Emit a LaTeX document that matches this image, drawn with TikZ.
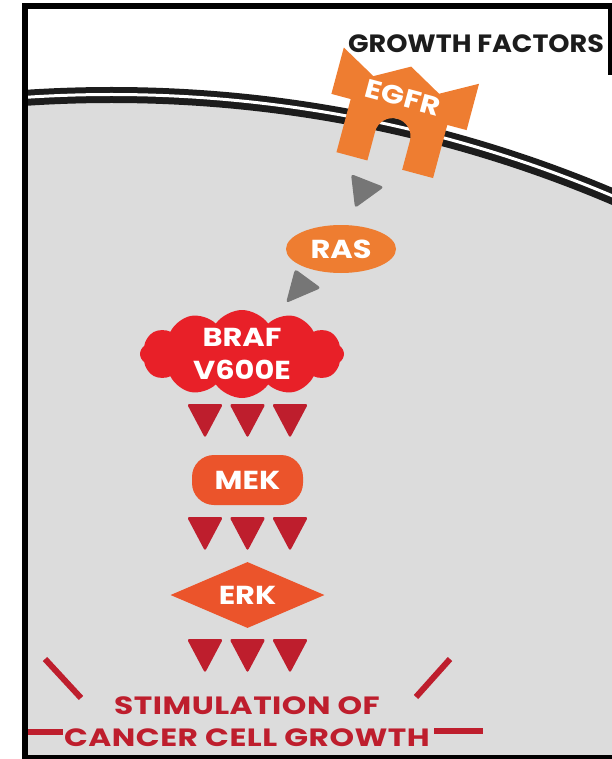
\documentclass[tikz,border=0pt]{standalone}
\usepackage{fontspec}
\setmainfont{Poppins}
\newfontfamily\tagfont{Poppins}[FakeStretch=1.17]
\newfontfamily\gffont{Poppins}[FakeStretch=1.08]
\newfontfamily\resultfont{Poppins}[FakeStretch=1.25,LetterSpace=2]
\usetikzlibrary{shapes.geometric,shapes.symbols}
\definecolor{cellgray}{RGB}{220,220,220}
\definecolor{memblack}{RGB}{28,28,28}
\definecolor{egfrorange}{RGB}{238,125,49}
\definecolor{mekorange}{RGB}{235,84,43}
\definecolor{brafred}{RGB}{232,32,40}
\definecolor{arrowred}{RGB}{190,30,45}
\definecolor{arrowgray}{RGB}{118,118,118}
\tikzset{
    tagtext/.style={font=\tagfont\bfseries\fontsize{26}{33}\selectfont,text=white,align=center},
    rasnode/.style={ellipse,fill=egfrorange,minimum width=110pt,minimum height=48pt,inner sep=0pt},
    brafcloud/.style={cloud,cloud puffs=12,cloud puff arc=110,aspect=2.4,fill=brafred,minimum width=204pt,minimum height=88pt,inner sep=0pt},
    mekbox/.style={rectangle,rounded corners=22pt,fill=mekorange,minimum width=111pt,minimum height=50pt,inner sep=0pt},
    erkdiamond/.style={diamond,aspect=2.3,fill=mekorange,minimum width=154pt,minimum height=66pt,inner sep=0pt},
    redtri/.style={fill=arrowred,rounded corners=2.5pt},
    graytri/.style={fill=arrowgray,rounded corners=3pt},
    burst/.style={draw=arrowred,line width=6pt},
    framebar/.style={draw=black,line width=6pt}
}
\begin{document}
\begin{tikzpicture}[x=1pt,y=-1pt]
    \useasboundingbox (0,0) rectangle (612,759);
    \clip (0,0) rectangle (612,759);
    % cell body and its double membrane, kept inside the frame
    \begin{scope}
        \clip (25,6.5) rectangle (612,757.5);
        \fill[cellgray] (111.6,1378) circle (1283pt);
        \draw[memblack,line width=16pt] (111.6,1378) circle (1283pt);
        \draw[white,line width=3pt] (111.6,1378) circle (1283.5pt);
    \end{scope}
    % outer frame
    \draw[framebar] (25,800) -- (25,6.5) -- (640,6.5);
    \draw[framebar] (22,757.5) -- (640,757.5);
    \draw[draw=black,line width=5pt] (610,4) -- (610,75);
    \node[font=\gffont\bfseries\fontsize{25}{28}\selectfont,text=memblack] (gf) at (476,44) {GROWTH FACTORS};
    % receptor sitting in the membrane
    \begin{scope}[shift={(399,112)},rotate=-15]
        \fill[egfrorange] (-70,-48) -- (-34,-28) -- (0,-47) -- (34,-28) -- (70,-48)
            -- (70,0) -- (50,0) -- (50,55) -- (18,55) -- (18,25) arc (0:-180:18)
            -- (-18,55) -- (-50,55) -- (-50,0) -- (-70,0) -- cycle;
        \node[tagtext,rotate=-15] (egfr) at (0,-15) {EGFR};
    \end{scope}
    \node[rasnode] (ras) at (341,249) {};
    \node[tagtext] at (ras) {RAS};
    \node[brafcloud] (braf) at (242,354) {};
    \node[tagtext] at (braf) {BRAF\\V600E};
    \node[mekbox] (mek) at (247.5,480) {};
    \node[tagtext] at (mek) {MEK};
    \node[erkdiamond] (erk) at (247.5,595) {};
    \node[tagtext] at (erk) {ERK};
    % grey steps EGFR -> RAS -> BRAF
    \fill[graytri] (351,174) -- (384,187) -- (355,208) -- cycle;
    \fill[graytri] (295,269) -- (321,288) -- (286,303) -- cycle;
    % red steps down the cascade
    \foreach \y in {404,517,639}
        \foreach \x in {205,247.5,290}
            \fill[redtri] (\x-18,\y) -- (\x+18,\y) -- (\x,\y+34) -- cycle;
    \node[font=\resultfont\bfseries\fontsize{25}{32}\selectfont,text=arrowred,align=center] (growth) at (247,722) {STIMULATION OF\\CANCER CELL GROWTH};
    \draw[burst] (45,659) -- (81,698);
    \draw[burst] (450,659) -- (416,697);
    \draw[burst] (28,732) -- (63,732);
    \draw[burst] (434,731) -- (483,731);
\end{tikzpicture}
\end{document}
